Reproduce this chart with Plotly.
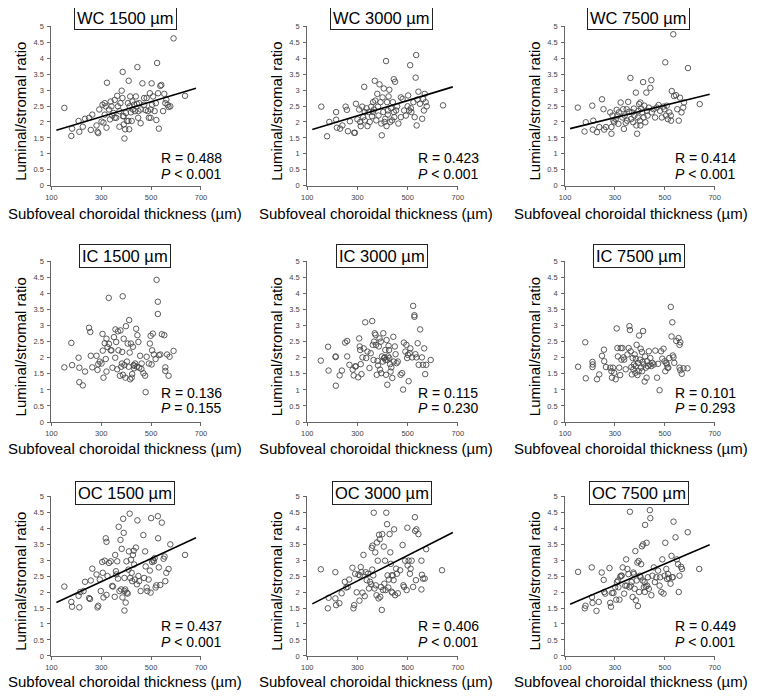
import plotly.graph_objects as go

W, H = 762, 696          # window size
PAGE_OFF = 8             # default body margin of the html page
FW, FH = W - PAGE_OFF, H - PAGE_OFF

# ---------------- data ----------------
panel_titles = ["WC 1500 µm", "WC 3000 µm", "WC 7500 µm",
                "IC 1500 µm", "IC 3000 µm", "IC 7500 µm",
                "OC 1500 µm", "OC 3000 µm", "OC 7500 µm"]
r_values = ["0.488", "0.423", "0.414", "0.136", "0.115", "0.101", "0.437", "0.406", "0.449"]
p_ops = ["&lt;", "&lt;", "&lt;", "=", "=", "=", "&lt;", "&lt;", "&lt;"]
p_values = ["0.001", "0.001", "0.001", "0.155", "0.230", "0.293", "0.001", "0.001", "0.001"]

x_ticks = [100, 300, 500, 700]
y_ticks = [0, 0.5, 1, 1.5, 2, 2.5, 3, 3.5, 4, 4.5, 5]
y_tick_labels = ["0", "0.5", "1", "1.5", "2", "2.5", "3", "3.5", "4", "4.5", "5"]

# regression line endpoints (None = no line drawn)
fit_x = [120, 680]
wc1500_fit = [1.74, 3.06]
wc3000_fit = [1.76, 3.10]
wc7500_fit = [1.79, 2.87]
oc1500_fit = [1.67, 3.70]
oc3000_fit = [1.63, 3.86]
oc7500_fit = [1.62, 3.48]

wc1500_x = [152,180,183,209,212,226,235,251,258,264,281,285,288,292,301,305,309,314,321,323,318,331,338,344,349,354,360,364,367,373,377,382,385,386,387,390,393,396,399,403,407,410,412,414,416,419,422,425,427,432,435,439,443,445,449,452,458,465,472,478,482,487,491,495,498,502,504,508,514,519,521,524,528,531,537,541,548,553,557,561,566,570,577,590,636,472,354,373,390,409,341,314,335,498,448,458]
wc1500_y = [2.44,1.56,1.79,2.03,1.69,1.85,2.10,2.13,1.75,2.23,1.89,1.69,1.65,2.39,2.01,2.54,1.98,2.23,1.82,3.23,2.49,2.39,2.64,2.20,2.28,2.69,2.13,2.82,2.49,2.34,2.59,2.98,2.75,3.57,2.18,1.92,1.48,1.77,2.28,2.03,2.59,3.29,1.77,2.49,2.80,2.30,2.03,2.64,2.39,2.54,2.34,2.80,2.57,3.72,2.34,2.59,1.96,3.21,2.75,2.37,2.75,2.34,2.13,2.90,2.13,3.21,2.54,2.80,2.34,2.59,2.06,3.85,2.90,1.79,3.13,3.16,2.34,2.88,2.59,2.70,2.54,2.47,2.49,4.62,2.82,2.54,2.13,1.85,2.18,2.03,2.49,2.59,2.08,2.39,2.13,2.39]

wc3000_x = [156,179,188,215,215,218,231,240,253,258,262,270,287,290,294,300,307,311,313,319,323,327,329,336,340,345,349,355,358,362,366,369,371,375,379,382,384,388,392,395,397,400,403,405,408,411,414,416,418,421,424,427,431,434,438,441,445,447,450,454,458,463,473,480,486,493,500,502,506,510,513,515,523,528,532,534,536,539,543,549,558,562,565,568,572,576,641,421,362,473,329,445]
wc3000_y = [2.48,1.55,2.00,2.31,2.07,1.82,1.79,1.89,2.48,2.38,1.71,2.02,1.66,1.66,2.57,2.08,2.39,2.00,1.87,2.48,2.15,3.10,2.05,2.43,1.87,2.31,2.00,2.48,2.18,2.62,2.39,3.29,2.67,2.05,2.88,2.48,2.20,3.18,2.62,1.95,1.58,2.77,2.31,3.05,2.00,2.10,3.91,1.87,2.62,2.36,2.80,3.01,2.00,2.43,2.05,2.62,3.34,2.15,3.26,2.36,2.49,1.95,2.77,2.72,2.36,2.20,2.49,2.83,2.36,3.78,2.43,2.31,2.62,2.15,3.39,4.10,1.89,2.70,2.95,2.57,2.10,2.72,2.36,2.88,2.62,2.49,2.52,2.23,2.31,2.15,2.31,2.31]

wc7500_x = [151,178,183,209,211,213,228,237,248,254,257,264,281,286,286,290,294,297,303,307,310,314,316,323,330,333,339,343,347,349,353,357,362,365,369,373,376,378,384,386,389,392,394,397,400,402,405,409,413,415,418,422,426,428,431,436,442,446,448,455,461,468,475,481,488,494,498,502,505,508,512,518,525,528,534,537,545,550,556,561,567,574,577,593,640,524,402,336]
wc7500_y = [2.45,1.70,1.99,2.51,1.76,2.04,1.68,1.84,2.71,2.40,1.76,1.84,2.30,1.63,1.84,2.20,2.04,1.99,2.09,2.38,2.20,1.94,2.30,2.61,2.14,2.40,2.20,1.97,2.40,2.04,2.63,2.32,3.38,2.09,2.30,1.99,2.42,2.20,2.92,1.89,1.63,2.14,2.35,2.56,2.04,1.89,2.42,2.30,3.25,2.14,2.51,1.99,2.92,2.35,2.20,2.45,3.07,3.31,2.30,2.40,2.14,2.45,2.53,2.35,2.14,2.48,2.40,3.87,2.20,2.51,2.09,2.30,2.04,2.97,4.75,2.81,2.84,2.40,2.04,2.76,2.30,2.45,2.61,3.69,2.56,2.20,2.61,1.78]

ic1500_x = [152,180,183,209,212,212,226,235,251,256,258,264,281,285,288,294,301,305,306,309,314,318,321,321,325,330,331,338,341,345,351,356,357,360,364,367,369,375,377,380,383,384,386,387,390,393,397,399,403,406,410,412,414,416,419,422,424,427,430,432,436,440,443,445,449,452,456,461,469,476,478,482,491,495,498,502,507,511,518,522,527,527,531,537,543,553,557,557,564,570,574,590,504,462,432]
ic1500_y = [1.70,2.46,1.77,2.00,1.69,1.24,1.14,1.57,2.93,2.80,2.06,1.70,2.06,1.62,1.80,1.88,1.82,2.74,2.22,1.38,2.45,1.96,2.59,1.57,2.33,3.86,2.43,2.23,2.23,1.69,2.64,2.00,2.88,2.49,1.64,2.82,2.23,1.44,2.85,1.72,1.82,2.18,3.91,1.47,2.59,1.77,1.38,2.98,1.88,2.44,1.72,3.17,2.16,1.33,2.44,1.38,1.49,2.34,1.77,1.75,1.82,2.90,1.72,2.70,2.49,1.69,2.06,1.65,1.52,1.44,0.93,2.03,1.82,2.44,2.68,1.79,2.75,2.10,1.96,4.42,3.74,3.36,2.08,2.10,2.73,2.70,1.70,1.59,2.10,1.44,2.03,2.21,2.23,1.82,1.67]

ic3000_x = [154,183,185,213,213,214,229,238,251,259,259,268,281,285,291,294,303,307,309,311,313,316,320,325,331,335,340,348,353,359,361,364,366,369,372,374,377,380,382,385,388,390,393,395,398,401,403,406,409,411,414,416,419,422,424,427,430,432,435,439,443,445,449,452,456,461,472,478,482,485,491,495,498,501,504,508,511,518,522,527,527,531,535,540,544,550,557,561,566,570,574,592,419,412,426]
ic3000_y = [1.91,2.34,1.60,2.04,2.02,1.13,1.45,1.60,2.47,2.52,2.04,1.78,1.63,1.45,1.73,1.73,1.39,2.60,2.35,2.24,1.80,1.49,2.01,2.29,3.10,1.99,2.19,1.68,2.14,3.14,2.40,1.93,2.50,2.76,2.71,2.40,1.47,1.90,1.76,2.35,2.60,1.63,2.50,1.52,2.04,1.88,2.76,1.99,2.01,2.24,1.47,2.55,1.16,2.04,2.37,1.99,1.80,1.57,1.70,1.37,2.65,1.88,2.35,2.11,1.83,1.88,1.47,1.52,1.01,2.47,2.19,2.40,1.99,2.09,1.27,2.14,2.29,2.01,3.61,3.32,3.27,2.11,2.01,2.45,1.78,2.88,2.01,1.78,2.29,1.49,1.78,1.93,1.93,1.93,2.24]

ic7500_x = [152,181,183,210,211,210,228,237,248,256,257,264,281,286,288,292,297,303,307,310,312,317,321,323,326,330,334,337,343,350,355,358,360,363,366,368,371,374,376,379,382,384,387,390,392,395,397,400,403,405,408,411,413,416,419,421,424,427,429,432,436,440,442,446,450,456,462,469,473,479,485,490,495,499,502,506,508,511,514,518,524,527,530,532,535,538,546,555,559,562,559,568,575,591,562,383,409]
ic7500_y = [1.72,2.48,1.36,1.87,1.79,1.71,1.33,1.48,2.06,2.25,1.89,1.71,1.69,1.58,1.38,1.69,1.53,1.33,2.91,2.30,2.04,1.69,1.46,2.30,1.94,2.30,2.01,1.94,1.64,2.10,2.30,2.98,2.86,2.20,1.71,1.48,1.99,1.64,1.79,2.10,1.53,1.97,2.40,1.46,1.84,1.58,2.69,1.94,2.28,1.69,2.18,1.87,2.83,1.79,1.26,2.04,1.69,1.38,1.89,1.74,2.20,1.79,1.99,1.74,1.84,1.79,2.22,1.38,1.81,0.99,2.20,1.97,2.28,1.89,1.58,1.84,1.79,1.69,1.69,1.99,3.58,2.66,3.10,2.07,2.01,1.84,2.52,2.61,2.40,2.48,1.69,1.50,1.67,1.67,1.61,1.74,1.58]

oc1500_x = [152,180,183,209,212,216,229,235,251,255,258,264,281,285,288,294,298,304,306,309,314,318,321,321,325,331,338,344,347,354,356,359,360,364,367,370,373,377,380,382,385,388,390,393,393,396,398,401,403,406,409,411,414,416,419,422,424,427,430,432,435,439,443,445,449,452,458,469,476,478,482,485,490,495,498,500,504,508,511,514,518,521,527,528,531,537,543,550,554,557,561,570,577,636,504,393,472]
oc1500_y = [2.17,1.69,1.54,1.88,1.52,2.00,2.03,2.32,1.81,1.78,2.36,2.73,2.55,1.52,1.57,2.39,2.03,2.94,2.60,1.83,2.98,3.68,3.57,1.91,2.50,2.91,2.96,2.19,2.17,1.85,3.16,2.65,2.55,2.96,2.42,4.04,2.03,3.63,2.08,3.35,1.83,4.29,3.85,1.42,2.03,2.08,1.67,2.96,1.98,1.95,2.70,3.27,4.45,2.44,3.01,2.60,2.34,3.16,3.29,2.86,2.39,3.39,2.24,4.24,2.50,2.34,2.03,3.78,3.27,2.80,2.14,2.03,2.39,2.67,1.98,4.31,2.94,3.01,2.96,3.06,2.14,2.21,4.37,3.68,2.77,2.22,4.17,3.04,3.11,2.34,2.60,2.72,3.49,3.16,4.83,2.44,2.44]

oc3000_x = [154,182,185,212,212,215,228,237,250,255,261,267,280,284,287,291,297,304,308,310,313,316,320,324,329,333,337,342,346,350,355,357,359,360,363,365,368,371,373,376,378,381,384,386,389,391,394,397,399,402,405,407,410,412,415,418,420,423,425,428,431,433,436,439,441,444,446,450,454,457,461,470,480,483,486,490,496,499,500,504,509,512,516,522,529,530,533,535,543,555,555,557,561,568,574,637,437]
oc3000_y = [2.71,1.49,1.82,2.62,1.80,1.59,1.65,1.96,2.32,2.14,2.16,2.39,2.76,1.49,1.59,2.57,1.99,2.54,1.73,2.52,2.78,2.62,1.98,3.16,1.87,2.62,2.37,2.57,2.11,2.32,2.24,3.38,2.70,3.45,2.52,4.48,2.11,3.24,2.21,1.90,3.55,2.98,1.80,3.79,3.65,1.85,2.16,1.44,3.81,2.06,3.42,2.26,2.98,2.06,4.48,4.12,2.52,2.14,2.39,3.81,3.24,2.88,2.01,1.98,2.52,2.37,3.96,1.90,2.73,2.57,1.96,2.68,3.47,2.21,2.16,2.98,2.06,4.01,2.83,2.98,2.57,2.73,2.98,2.16,4.34,3.91,2.37,3.96,3.81,2.98,2.08,2.54,2.42,2.42,3.34,2.68,2.52]

oc7500_x = [152,179,182,207,208,210,226,235,247,255,257,261,278,281,284,288,294,301,305,308,312,314,318,321,325,327,331,337,341,345,347,350,354,358,360,363,367,371,374,376,379,382,384,387,390,392,395,397,400,403,405,408,411,413,416,419,421,424,427,429,432,436,440,442,446,450,456,460,466,473,479,481,486,490,495,499,502,506,509,513,516,523,527,530,532,535,543,548,553,556,559,565,569,592,638,420]
oc7500_y = [2.63,1.49,1.57,2.77,1.84,1.66,1.41,1.69,2.61,2.38,2.00,1.95,2.75,1.66,1.54,1.97,1.97,2.15,1.76,2.31,2.36,2.15,1.76,2.48,2.51,2.51,2.77,1.95,2.20,3.02,2.20,2.72,2.56,2.15,4.51,2.20,2.31,1.84,2.61,2.56,2.10,3.28,1.74,2.36,2.92,1.56,2.97,2.00,2.51,2.46,2.87,3.43,2.36,3.49,2.15,2.31,4.10,2.17,3.54,2.20,2.46,2.10,4.56,4.31,1.90,2.51,2.77,2.31,2.46,2.67,2.20,2.46,2.00,3.02,1.95,2.51,3.54,2.72,2.41,2.56,2.44,2.26,3.13,2.46,2.46,4.20,3.71,3.02,2.87,2.00,2.51,2.79,2.72,3.87,2.72,2.00]

panel_x = [wc1500_x, wc3000_x, wc7500_x, ic1500_x, ic3000_x, ic7500_x, oc1500_x, oc3000_x, oc7500_x]
panel_y = [wc1500_y, wc3000_y, wc7500_y, ic1500_y, ic3000_y, ic7500_y, oc1500_y, oc3000_y, oc7500_y]
panel_fit = [wc1500_fit, wc3000_fit, wc7500_fit, None, None, None, oc1500_fit, oc3000_fit, oc7500_fit]

# ---------------- layout geometry (window pixels) ----------------
col_px = [(46, 198), (306, 459), (568, 720)]
row_px = [(22.5, 184), (260.5, 423.5), (498.5, 660.5)]
title_cy = [14, 255.5, 495.5]
r_cy = [156, 394, 630]
p_cy = [172, 409, 646]
r_left = [155, 416, 678]
xtitle_cx = [120.5, 375.5, 634.5]
xtitle_cy = [212, 450, 686]


def fx(p):
    return (p - PAGE_OFF) / FW


def fy(p):
    return 1 - (p - PAGE_OFF) / FH


FONT = "Liberation Sans"
fig = go.Figure()
annotations = []
layout_axes = {}

for i in range(9):
    r, c = divmod(i, 3)
    x0, x1 = col_px[c]
    y0, y1 = row_px[r]
    n = i + 1
    xa = "x" if n == 1 else f"x{n}"
    ya = "y" if n == 1 else f"y{n}"
    xkey = "xaxis" if n == 1 else f"xaxis{n}"
    ykey = "yaxis" if n == 1 else f"yaxis{n}"

    fig.add_trace(go.Scatter(
        x=panel_x[i], y=panel_y[i], mode="markers", xaxis=xa, yaxis=ya,
        marker=dict(symbol="circle-open", size=5.5, color="#4a4a4a",
                    line=dict(width=0.9, color="#4a4a4a")),
        showlegend=False, hoverinfo="skip", cliponaxis=False))
    if panel_fit[i] is not None:
        fig.add_trace(go.Scatter(
            x=fit_x, y=panel_fit[i], mode="lines", xaxis=xa, yaxis=ya,
            line=dict(color="black", width=1.6), showlegend=False, hoverinfo="skip"))

    common = dict(showgrid=False, zeroline=False, showline=True, linecolor="#666",
                  linewidth=1, ticks="outside", tickcolor="#666", ticklen=3,
                  tickwidth=1, tickfont=dict(family=FONT, size=7.5, color="#444"),
                  fixedrange=True)
    layout_axes[xkey] = dict(domain=[fx(x0), fx(x1)], anchor=ya, range=[100, 700],
                             tickvals=x_ticks, ticktext=[str(v) for v in x_ticks],
                             ticklabelstandoff=1, **common)
    layout_axes[ykey] = dict(domain=[fy(y1), fy(y0)], anchor=xa, range=[0, 5],
                             tickvals=y_ticks, ticktext=y_tick_labels,
                             ticklabelstandoff=2, **common)

    cx = (x0 + x1) / 2
    # title box
    annotations.append(dict(
        x=fx(cx - 1), y=fy(title_cy[r]), xref="paper", yref="paper",
        text=panel_titles[i], showarrow=False, xanchor="center", yanchor="middle",
        font=dict(family=FONT, size=16.5, color="black"),
        bordercolor="#222", borderwidth=1, borderpad=2, bgcolor="white"))
    # y axis title
    annotations.append(dict(
        x=fx(x0 - 31), y=fy((y0 + y1) / 2 + 5), xref="paper", yref="paper",
        text="Luminal/stromal ratio", showarrow=False, textangle=-90,
        xanchor="center", yanchor="middle",
        font=dict(family=FONT, size=15, color="black")))
    # x axis title
    annotations.append(dict(
        x=fx(xtitle_cx[c]), y=fy(xtitle_cy[r]), xref="paper", yref="paper",
        text="Subfoveal choroidal thickness (µm)", showarrow=False,
        xanchor="center", yanchor="middle",
        font=dict(family=FONT, size=15, color="black")))
    # R and P
    annotations.append(dict(
        x=fx(r_left[c]), y=fy(r_cy[r]), xref="paper", yref="paper",
        text=f"R = {r_values[i]}", showarrow=False, xanchor="left", yanchor="middle",
        font=dict(family=FONT, size=14, color="black")))
    annotations.append(dict(
        x=fx(r_left[c]), y=fy(p_cy[r]), xref="paper", yref="paper",
        text=f"<i>P</i> {p_ops[i]} {p_values[i]}", showarrow=False, xanchor="left",
        yanchor="middle", font=dict(family=FONT, size=14, color="black")))

fig.update_layout(
    width=FW, height=FH, margin=dict(l=0, r=0, t=0, b=0),
    paper_bgcolor="white", plot_bgcolor="white",
    annotations=annotations, **layout_axes)

fig.write_html("out.html", config={"displayModeBar": False})
